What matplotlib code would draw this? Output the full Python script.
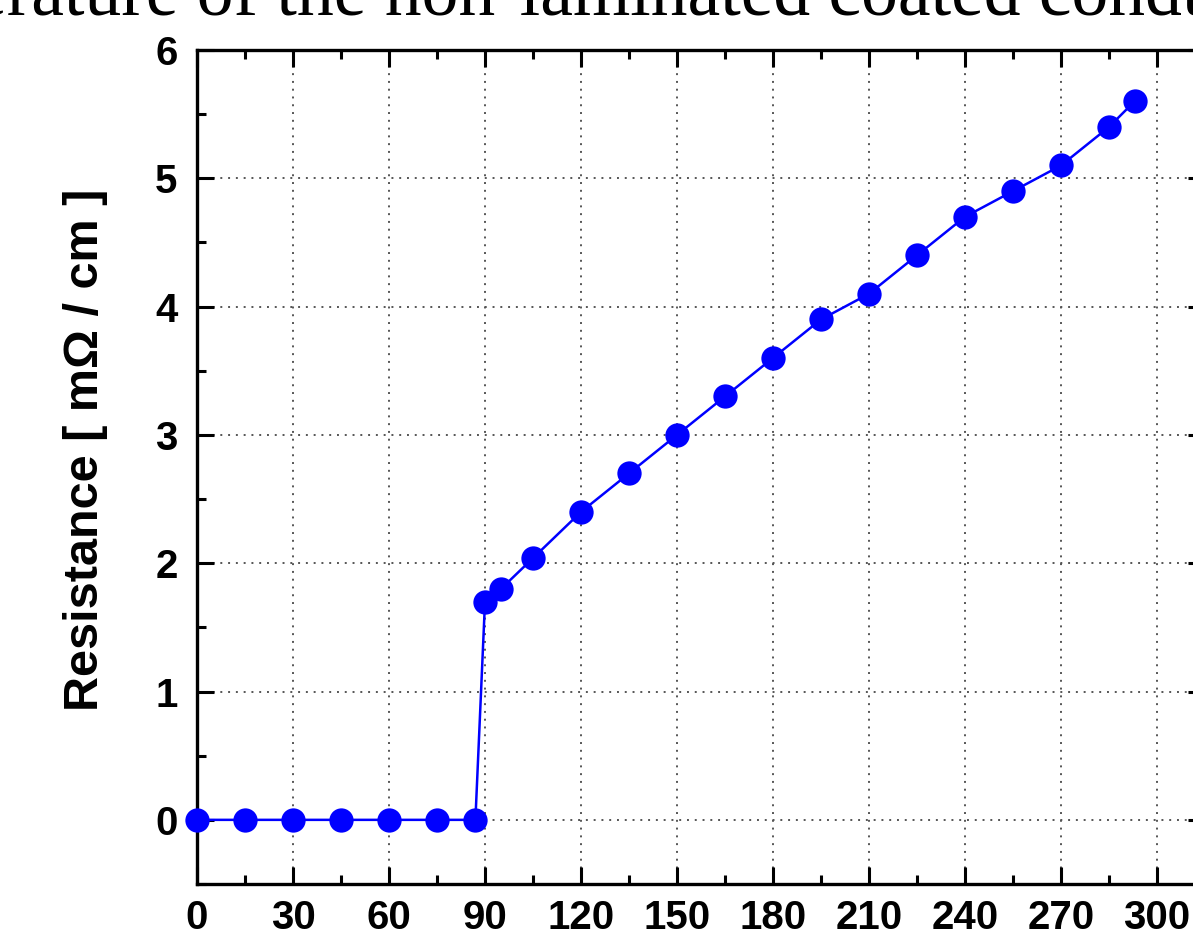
import matplotlib.pyplot as plt
from matplotlib.ticker import MultipleLocator
from matplotlib.font_manager import FontProperties

# temperature [K] and resistance per length [mOhm/cm]
temperature = [0, 15, 30, 45, 60, 75, 87, 90, 95, 105, 120, 135, 150, 165,
               180, 195, 210, 225, 240, 255, 270, 285, 293]
resistance = [0, 0, 0, 0, 0, 0, 0, 1.70, 1.80, 2.04, 2.40, 2.70, 3.00, 3.30,
              3.60, 3.90, 4.10, 4.40, 4.70, 4.90, 5.10, 5.40, 5.60]
x_ticks = [0, 30, 60, 90, 120, 150, 180, 210, 240, 270, 300]
y_ticks = [0, 1, 2, 3, 4, 5, 6]

W, H = 1193, 936
fig = plt.figure(figsize=(W / 100, H / 100), dpi=100)

# axes frame in pixels: left 197, top 50, bottom 884, right spine past the edge
left, top, bottom = 197, 50, 884
xmax = 315
right = left + xmax * 3.2
ax = fig.add_axes([left / W, 1 - bottom / H, (right - left) / W, (bottom - top) / H])

ax.plot(temperature, resistance, color='#0000ff', lw=1.8, marker='o',
        markersize=17.5, markeredgewidth=0, zorder=3, clip_on=False)

ax.set_xlim(0, xmax)
ax.set_ylim(-0.5, 6)
ax.set_xticks(x_ticks)
ax.set_yticks(y_ticks)
ax.xaxis.set_minor_locator(MultipleLocator(15))
ax.yaxis.set_minor_locator(MultipleLocator(0.5))

tick_font = {'family': 'Liberation Sans', 'weight': 'bold', 'size': 29}
ax.set_xticklabels([str(t) for t in x_ticks], fontdict=tick_font)
ax.set_yticklabels([str(t) for t in y_ticks], fontdict=tick_font)

ax.tick_params(which='both', direction='in', top=True, right=True, width=2.2)
ax.tick_params(which='major', length=12.5, pad=14)
ax.tick_params(axis='x', which='major', pad=11)
ax.tick_params(which='minor', length=6.5)

for s in ax.spines.values():
    s.set_linewidth(2.4)

ax.grid(True, which='major', linestyle=(0, (1, 3)), color='#555555', lw=1.4)
ax.set_axisbelow(True)

ax.set_ylabel('Resistance [ mΩ / cm ]', fontfamily='Liberation Sans',
              fontweight='bold', fontsize=35)
ax.yaxis.set_label_coords((108 - left) / (right - left), (bottom - 450) / (bottom - top))

# slide title, only its lower part lies inside the figure:
# size it so "of ... cond" runs from x=197 px to x=1185 px
title = 'temperature of the non-laminated coated conductor'
renderer = fig.canvas.get_renderer()
fp = FontProperties(family='Liberation Serif', size=10)
w_part = renderer.get_text_width_height_descent('of the non-laminated coated cond', fp, ismath=False)[0]
size = 10 * (1185 - 197) / w_part
fp.set_size(size)
w_prefix = renderer.get_text_width_height_descent('temperature ', fp, ismath=False)[0]
fig.text((197 - w_prefix) / W, 1 - 15 / H, title,
         fontproperties=fp, ha='left', va='baseline')

fig.savefig('out.png', dpi=100)
